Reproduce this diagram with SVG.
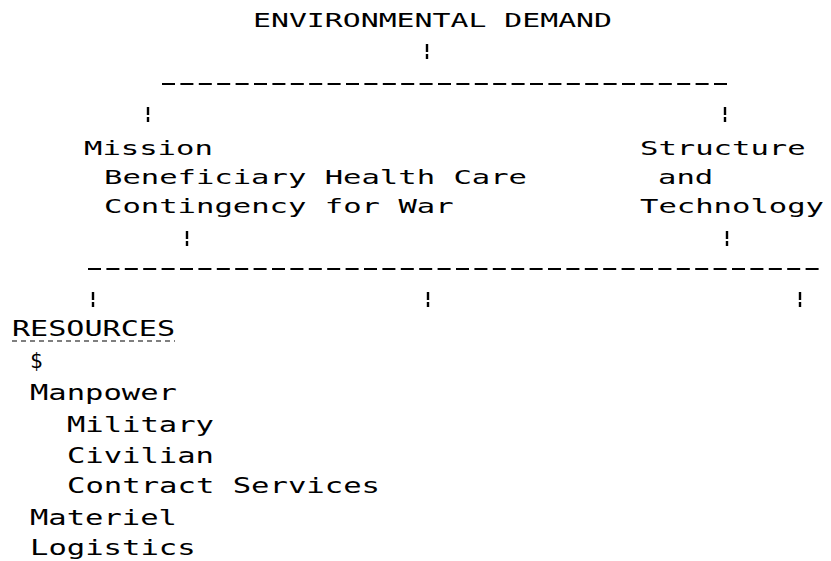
<svg xmlns="http://www.w3.org/2000/svg" width="831" height="561" viewBox="0 0 831 561">
<style>
text { font-family: "DejaVu Sans Mono", "Liberation Mono", monospace; fill: #000; }
.u { font-size: 19px; }
.l { font-size: 21px; }
.dash { stroke: #000; stroke-width: 2.2; stroke-dasharray: 13 5.4; fill: none; }
.bar { stroke: #000; stroke-width: 2.4; stroke-dasharray: 8 2 5 30; fill: none; }
.ul { stroke: #000; stroke-width: 1.2; stroke-dasharray: 5 4; fill: none; }
</style>
<rect width="831" height="561" fill="#fff"/>
<g id="connectors">
  <line class="bar" x1="427" y1="44" x2="427" y2="59"/>
  <line class="dash" x1="162" y1="84" x2="727" y2="84"/>
  <line class="bar" x1="148" y1="107" x2="148" y2="122"/>
  <line class="bar" x1="725" y1="107" x2="725" y2="122"/>
  <line class="bar" x1="187" y1="231" x2="187" y2="246"/>
  <line class="bar" x1="727" y1="231" x2="727" y2="246"/>
  <line class="dash" x1="88" y1="269" x2="822" y2="269"/>
  <line class="bar" x1="93" y1="292" x2="93" y2="307"/>
  <line class="bar" x1="428" y1="292" x2="428" y2="307"/>
  <line class="bar" x1="800" y1="292" x2="800" y2="307"/>
</g>
<g id="environmental-demand">
  <text class="u" x="253" y="27" textLength="359" lengthAdjust="spacingAndGlyphs">ENVIRONMENTAL DEMAND</text>
</g>
<g id="mission">
  <text class="u" x="84" y="155" textLength="128.8" lengthAdjust="spacingAndGlyphs">Mission</text>
  <text class="u" x="104" y="184" textLength="423" lengthAdjust="spacingAndGlyphs">Beneficiary Health Care</text>
  <text class="u" x="104" y="213" textLength="349.6" lengthAdjust="spacingAndGlyphs">Contingency for War</text>
</g>
<g id="structure-technology">
  <text class="u" x="640" y="155" textLength="165.6" lengthAdjust="spacingAndGlyphs">Structure</text>
  <text class="u" x="658" y="184" textLength="55.2" lengthAdjust="spacingAndGlyphs">and</text>
  <text class="u" x="640" y="213" textLength="184" lengthAdjust="spacingAndGlyphs">Technology</text>
</g>
<g id="resources">
  <text class="l" x="12" y="336" textLength="163" lengthAdjust="spacingAndGlyphs">RESOURCES</text>
  <line class="ul" x1="12" y1="341" x2="175" y2="341"/>
  <text class="l" x="30" y="368">$</text>
  <text class="l" x="30" y="400" textLength="147" lengthAdjust="spacingAndGlyphs">Manpower</text>
  <text class="l" x="67" y="432" textLength="147" lengthAdjust="spacingAndGlyphs">Military</text>
  <text class="l" x="67" y="463" textLength="147" lengthAdjust="spacingAndGlyphs">Civilian</text>
  <text class="l" x="67" y="493" textLength="313" lengthAdjust="spacingAndGlyphs">Contract Services</text>
  <text class="l" x="30" y="525" textLength="147" lengthAdjust="spacingAndGlyphs">Materiel</text>
  <text class="l" x="30" y="555" textLength="165.6" lengthAdjust="spacingAndGlyphs">Logistics</text>
</g>
</svg>
